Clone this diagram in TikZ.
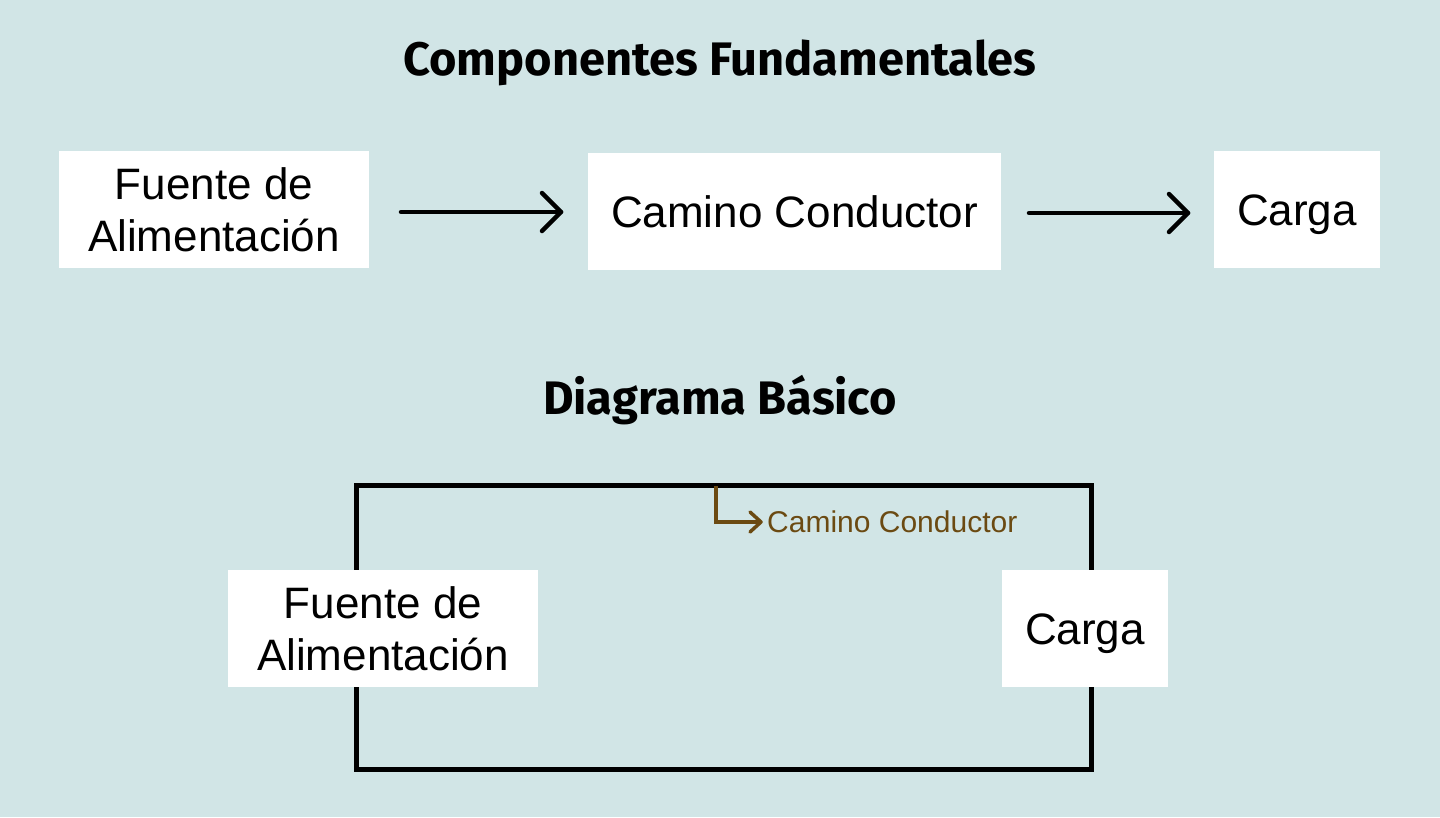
\documentclass[tikz,border=0pt]{standalone}
\usepackage{fontspec}
\setmainfont{Liberation Sans}
\newfontfamily\titlefont{Fira Sans}
\definecolor{bgc}{HTML}{D1E5E6}
\definecolor{brownc}{HTML}{6B4A12}
\tikzset{
  box/.style={fill=white, draw=none, inner sep=0pt, align=center, font=\fontsize{44}{52}\selectfont},
  single/.style={text height=40pt, text depth=9pt},
  title/.style={font=\titlefont\bfseries\fontsize{47}{54}\selectfont},
  flow/.style={line width=4.5pt, line cap=round, line join=round},
  loop/.style={line width=5pt, line join=miter},
  note/.style={line width=3.5pt, draw=brownc, line join=miter}
}
\begin{document}
\begin{tikzpicture}[x=1pt,y=-1pt]
\fill[bgc] (0,0) rectangle (1440,817);
\useasboundingbox (0,0) rectangle (1440,817);

\node[title] (t1) at (720,63) {Componentes Fundamentales};
\node[box, minimum width=310pt, minimum height=117pt] (fa) at (214,209.5) {Fuente de\\Alimentación};
\node[box, minimum width=413pt, minimum height=117pt] (cc) at (794.5,211.5) {Camino Conductor};
\node[box, single, minimum width=166pt, minimum height=117pt] (ca) at (1297,209.5) {Carga};
\coordinate (a1s) at (401,212);
\coordinate (a1e) at (561,212);
\coordinate (a2s) at (1029,213);
\coordinate (a2e) at (1188,213);
\draw[flow] (a1s) -- (a1e);
\draw[flow] ([shift={(-19,-19)}]a1e) -- (a1e) -- ([shift={(-19,19)}]a1e);
\draw[flow] (a2s) -- (a2e);
\draw[flow] ([shift={(-19,-19)}]a2e) -- (a2e) -- ([shift={(-19,19)}]a2e);

\node[title] (t2) at (720,400) {Diagrama Básico};

\coordinate (tl) at (356,485);
\coordinate (tr) at (1091,485);
\coordinate (br) at (1091,769);
\coordinate (bl) at (356,769);
\draw[loop] (tl) -- (tr) -- (br) -- (bl) -- cycle;
\node[box, minimum width=310pt, minimum height=117pt] (fb) at (383,628.5) {Fuente de\\Alimentación};
\node[box, single, minimum width=166pt, minimum height=117pt] (cb) at (1085,628.5) {Carga};

\coordinate (ns) at (716,486);
\node[anchor=west, text=brownc, inner sep=0pt, font=\fontsize{30}{34}\selectfont] (nl) at (767,522) {Camino Conductor};
\coordinate (ne) at ([xshift=-6pt]nl.west);
\draw[note] (ns) |- (ne);
\draw[note, line cap=round, line join=round] ([shift={(-11,-10)}]ne) -- (ne) -- ([shift={(-11,10)}]ne);
\end{tikzpicture}
\end{document}
